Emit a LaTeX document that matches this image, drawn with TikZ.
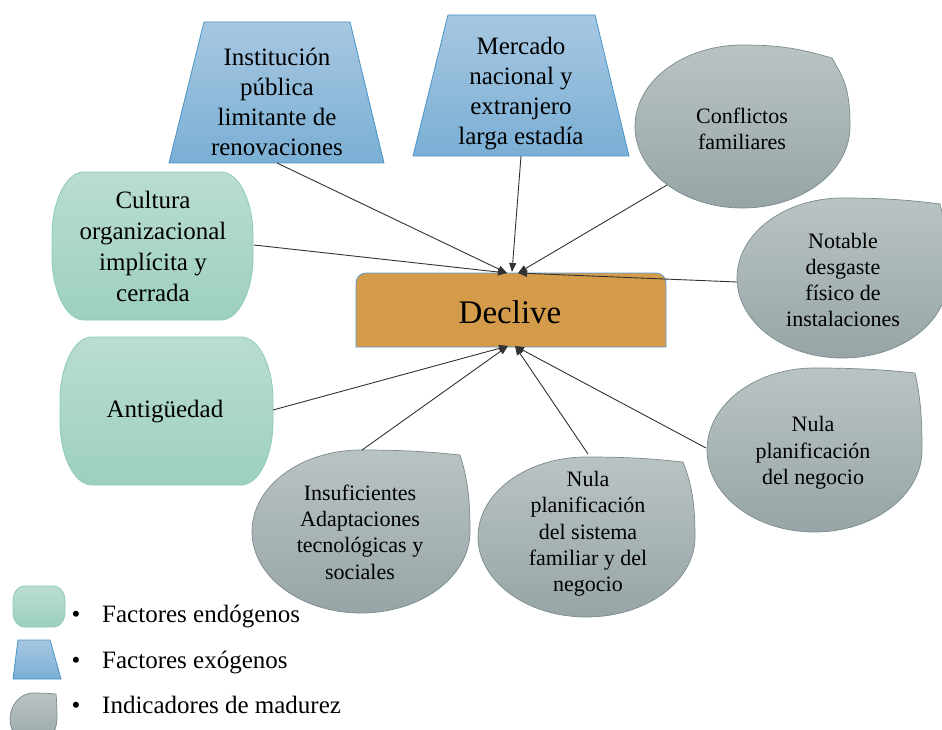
\documentclass[tikz,border=0pt]{standalone}
\usepackage{fontspec}
\setmainfont{Liberation Serif}
\usetikzlibrary{arrows.meta}
\definecolor{gtop}{HTML}{BADDD0}
\definecolor{gbot}{HTML}{9DD0BD}
\definecolor{gline}{HTML}{8CCCB5}
\definecolor{btop}{HTML}{A7C7E1}
\definecolor{bbot}{HTML}{7AAFD5}
\definecolor{bline}{HTML}{4A94C6}
\definecolor{ytop}{HTML}{BAC3C4}
\definecolor{ybot}{HTML}{97A5A6}
\definecolor{yline}{HTML}{7A8B8D}
\definecolor{decfill}{HTML}{D49C4A}
\definecolor{decline}{HTML}{5B9BD5}
\newcommand\greenbox[6]{%
  \shade[top color=gtop,bottom color=gbot,draw=gline,line width=0.8pt]
    ({#1+#5},#2) -- ({#3-#5},#2)
    arc[start angle=270,end angle=360,x radius=#5,y radius=#6] -- (#3,{#4-#6})
    arc[start angle=0,end angle=90,x radius=#5,y radius=#6] -- ({#1+#5},#4)
    arc[start angle=90,end angle=180,x radius=#5,y radius=#6] -- (#1,{#2+#6})
    arc[start angle=180,end angle=270,x radius=#5,y radius=#6] -- cycle;}
\newcommand\tdrop[6]{%
  \shade[top color=ytop,bottom color=ybot,draw=yline,line width=0.7pt]
    ({(#1+#3)/2},#2)
    arc[start angle=270,end angle=0,x radius={(#3-#1)/2},y radius={(#4-#2)/2}]
    .. controls (#3,{(#2+#4)/2-0.25*(#4-#2)}) and ({#5+0.6*(#3-#5)},{#6+0.12*(#4-#2)}) .. (#5,#6)
    .. controls ({#5-0.15*(#3-#1)},{#2+0.3*(#6-#2)}) and ({(#1+#3)/2+0.18*(#3-#1)},#2) .. ({(#1+#3)/2},#2) -- cycle;}
\newcommand\trap[8]{%
  \shade[top color=btop,bottom color=bbot,draw=bline,line width=0.8pt]
    (#1,#2) -- (#3,#2) -- (#6,#8) -- (#5,#8) -- cycle;}
\tikzset{
  bigtxt/.style={font=\fontsize{25}{30}\selectfont,align=center,inner sep=0pt},
  grtxt/.style={font=\fontsize{25}{31}\selectfont,align=center,inner sep=0pt},
  gytxt/.style={font=\fontsize{22}{26.3}\selectfont,align=center,inner sep=0pt},
  legtxt/.style={font=\fontsize{25}{30}\selectfont,inner sep=0pt,anchor=base west},
  legbul/.style={font=\fontsize{25}{30}\selectfont,inner sep=0pt,anchor=base},
  conn/.style={draw=black!80,line width=0.9pt,-{Triangle[length=9pt,width=7pt]}}
}
\begin{document}
\begin{tikzpicture}[x=1pt,y=-1pt]
\useasboundingbox (0,0) rectangle (942,730);
\fill[white] (0,0) rectangle (942,730);

% exogenous (trapezoids)
\trap{204}{22}{350}{22}{169}{384}{163}{163}
\trap{448}{15}{595}{15}{413}{629}{156}{156}

% endogenous
\greenbox{52}{172}{253}{320}{32}{64}
\greenbox{60}{337}{273}{485}{32}{64}

% maturity indicators
\tdrop{635}{45}{850}{208}{832}{58}
\tdrop{737}{198}{948}{358}{940}{204}
\tdrop{707}{368}{922}{532}{915}{373}
\tdrop{478}{457}{695}{617}{683}{462}
\tdrop{252}{450}{470}{613}{460}{455}

% central
\path[fill=decfill,draw=decline,line width=0.8pt]
  (356,347) -- (356,283) arc[start angle=180,end angle=270,radius=10]
  -- (656,273) arc[start angle=270,end angle=360,radius=10] -- (666,347) -- cycle;
\node[font=\fontsize{33}{38}\selectfont,inner sep=0pt] (decl) at (510,312) {Declive};

% texts
\node[bigtxt] (inst) at (277,102) {Institución\\pública\\limitante de\\renovaciones};
\node[bigtxt] (merc) at (521,94) {Mercado\\nacional y\\extranjero\\larga estadía};
\node[grtxt] (cult) at (153,246) {Cultura\\organizacional\\implícita y\\cerrada};
\node[grtxt] (anti) at (165,412) {Antigüedad};
\node[gytxt] (conf) at (742,129) {Conflictos\\familiares};
\node[gytxt] (nota) at (843,280) {Notable\\desgaste\\físico de\\instalaciones};
\node[gytxt] (nneg) at (813,453) {Nula\\planificación\\del negocio};
\node[gytxt] (nsis) at (588,534) {Nula\\planificación\\del sistema\\familiar y del\\negocio};
\node[gytxt] (insu) at (360,532) {Insuficientes\\Adaptaciones\\tecnológicas y\\sociales};

% connector end points
\coordinate (inst-o) at (277,163);
\coordinate (merc-o) at (521,156);
\coordinate (conf-o) at (667,185);
\coordinate (nota-o) at (737,282);
\coordinate (cult-o) at (254,245);
\coordinate (anti-o) at (273,410);
\coordinate (insu-o) at (362,450);
\coordinate (nsis-o) at (588,454);
\coordinate (nneg-o) at (706,448);
\coordinate (dt1) at (507,273);
\coordinate (dt2) at (512,272);
\coordinate (dt3) at (518,273);
\coordinate (db1) at (508,346);
\coordinate (db2) at (515,346);

\draw[conn] (inst-o) -- (dt1);
\draw[conn] (cult-o) -- (dt1);
\draw[conn] (merc-o) -- (dt2);
\draw[conn] (conf-o) -- (dt3);
\draw[conn] (nota-o) -- (dt3);
\draw[conn] (anti-o) -- (db1);
\draw[conn] (insu-o) -- (db1);
\draw[conn] (nsis-o) -- (db2);
\draw[conn] (nneg-o) -- (db2);

% legend
\greenbox{13}{586}{65}{627}{11}{15}
\trap{18}{640}{50}{640}{13}{61}{679}{679}
\tdrop{10}{693}{57}{745}{56}{694}
\node[legbul] (b1) at (76,622) {•};
\node[legbul] (b2) at (76,668) {•};
\node[legbul] (b3) at (76,713) {•};
\node[legtxt] (l1) at (102,622) {Factores endógenos};
\node[legtxt] (l2) at (102,668) {Factores exógenos};
\node[legtxt] (l3) at (102,713) {Indicadores de madurez};
\end{tikzpicture}
\end{document}
